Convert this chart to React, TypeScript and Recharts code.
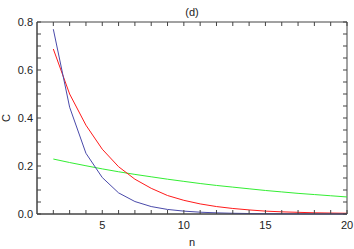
import { LineChart, Line, XAxis, YAxis, ReferenceArea } from 'recharts'

const N = [2, 3, 4, 5, 6, 7, 8, 9, 10, 11, 12, 13, 14, 15, 16, 17, 18, 19, 20]
const BLUE_C = [
  0.77, 0.445, 0.253, 0.152, 0.088, 0.052, 0.031, 0.019, 0.012, 0.0075, 0.0048, 0.003, 0.002,
  0.0013, 0.0008, 0.0005, 0.0003, 0.0002, 0.0001,
]
const RED_C = [
  0.6875, 0.5, 0.37, 0.27, 0.197, 0.145, 0.107, 0.077, 0.057, 0.042, 0.031, 0.023, 0.017, 0.012,
  0.009, 0.007, 0.005, 0.004, 0.003,
]
const GREEN_C = [
  0.229, 0.2145, 0.201, 0.188, 0.176, 0.165, 0.155, 0.145, 0.136, 0.127, 0.119, 0.112, 0.105,
  0.098, 0.092, 0.086, 0.081, 0.076, 0.071,
]
const X_TICKS = [2, 3, 4, 5, 6, 7, 8, 9, 10, 11, 12, 13, 14, 15, 16, 17, 18, 19, 20]
const X_LABELS = [5, 10, 15, 20]
const Y_TICKS = [
  0, 0.05, 0.1, 0.15, 0.2, 0.25, 0.3, 0.35, 0.4, 0.45, 0.5, 0.55, 0.6, 0.65, 0.7, 0.75, 0.8,
]
const Y_LABELS = ['0.0', '0.2', '0.4', '0.6', '0.8']

const data = N.map((n, i) => ({ n, blue: BLUE_C[i], red: RED_C[i], green: GREEN_C[i] }))

const AXIS = '#444'
const TEXT = '#222'
const FONT = '"Liberation Sans", Arial, sans-serif'
const TICK_LEN = 4

// ticks point inward on all four sides, labels sit outside the frame
const BottomTick = (props: any) => {
  const { x, y, payload } = props
  const show = X_LABELS.includes(payload.value)
  return (
    <g>
      <rect x={x - 0.5} y={y - TICK_LEN} width={1} height={TICK_LEN} fill={AXIS} />
      <rect x={x - 0.5} y={22} width={1} height={TICK_LEN} fill={AXIS} />
      {show && (
        <text x={x} y={y + 15} textAnchor="middle" fill={TEXT} fontSize={11} fontFamily={FONT}>
          {payload.value}
        </text>
      )}
    </g>
  )
}

const LeftTick = (props: any) => {
  const { x, y, payload } = props
  const label = payload.value.toFixed(1)
  const show = Y_LABELS.includes(label) && Math.abs(payload.value * 10 - Math.round(payload.value * 10)) < 1e-6
  return (
    <g>
      <rect x={x} y={y - 0.5} width={TICK_LEN} height={1} fill={AXIS} />
      <rect x={347 - TICK_LEN} y={y - 0.5} width={TICK_LEN} height={1} fill={AXIS} />
      {show && (
        <text x={x - 4} y={y + 4} textAnchor="end" fill={TEXT} fontSize={11} fontFamily={FONT}>
          {label}
        </text>
      )}
    </g>
  )
}

export default function App() {
  return (
    <div style={{ position: 'absolute', left: 0, top: 0 }}>
      <LineChart
        width={354}
        height={249}
        data={data}
        margin={{ top: 22, right: 7, left: 0, bottom: 0 }}
      >
        {/* plot frame */}
        <ReferenceArea
          x1={1}
          x2={20}
          y1={0}
          y2={0.8}
          fill="#ffffff"
          fillOpacity={0}
          stroke={AXIS}
          strokeWidth={1}
          strokeOpacity={1}
          ifOverflow="visible"
        />
        <XAxis
          dataKey="n"
          type="number"
          domain={[1, 20]}
          ticks={X_TICKS}
          interval={0}
          height={35}
          tickSize={0}
          tickMargin={0}
          tickLine={false}
          axisLine={{ stroke: AXIS }}
          tick={BottomTick}
          label={{
            content: ({ viewBox }: any) => (
              <text
                x={viewBox.x + viewBox.width / 2}
                y={viewBox.y + 32}
                textAnchor="middle"
                fill={TEXT}
                fontSize={11}
                fontFamily={FONT}
              >
                n
              </text>
            ),
          }}
        />
        <YAxis
          type="number"
          domain={[0, 0.8]}
          ticks={Y_TICKS}
          interval={0}
          width={37}
          tickSize={0}
          tickMargin={0}
          tickLine={false}
          axisLine={{ stroke: AXIS }}
          tick={LeftTick}
          label={{
            content: ({ viewBox }: any) => {
              const cx = viewBox.x + 10
              const cy = viewBox.y + viewBox.height / 2
              return (
                <g>
                  <text
                    x={cx}
                    y={cy}
                    transform={`rotate(-90 ${cx} ${cy})`}
                    textAnchor="middle"
                    fill={TEXT}
                    fontSize={11}
                    fontFamily={FONT}
                  >
                    C
                  </text>
                  <text x={192} y={16} textAnchor="middle" fill={TEXT} fontSize={11} fontFamily={FONT}>
                    (d)
                  </text>
                </g>
              )
            },
          }}
        />
        <Line dataKey="green" stroke="#33ee33" strokeWidth={1} dot={false} isAnimationActive={false} />
        <Line dataKey="red" stroke="#ff1a1a" strokeWidth={1} dot={false} isAnimationActive={false} />
        <Line dataKey="blue" stroke="#4a4aaa" strokeWidth={1} dot={false} isAnimationActive={false} />
      </LineChart>
    </div>
  )
}
